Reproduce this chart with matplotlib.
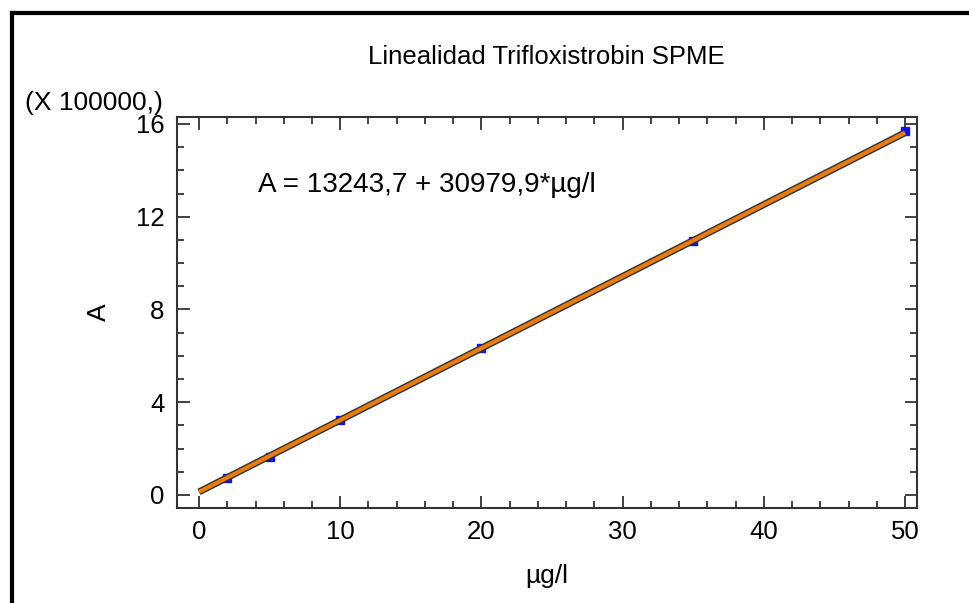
import matplotlib
matplotlib.use("Agg")
import matplotlib.pyplot as plt
import matplotlib.patheffects as pe
from matplotlib.ticker import MultipleLocator
import numpy as np

plt.rcParams['font.family'] = ['Liberation Sans', 'DejaVu Sans']

# calibration data (A in units of 100000)
conc = [2, 5, 10, 20, 35, 50]
area = [0.75, 1.62, 3.23, 6.33, 10.96, 15.70]
intercept = 13243.7
slope = 30979.9
scale = 100000.0

fig = plt.figure(figsize=(9.7, 6.03), dpi=100)
ax = fig.add_axes([0.1825, 0.1576, 0.7629, 0.6484])

xs = np.array([0, 50])
ys = (intercept + slope * xs) / scale
ax.plot(conc, area, 's', color='#1010ee', ms=6, zorder=2)
ax.plot(xs, ys, color='#e87c10', lw=3, solid_capstyle='butt', zorder=3,
        path_effects=[pe.Stroke(linewidth=5, foreground='#303030'), pe.Normal()])

ax.set_xlim(-1.56, 50.85)
ax.set_ylim(-0.56, 16.3)
ax.xaxis.set_major_locator(MultipleLocator(10))
ax.xaxis.set_minor_locator(MultipleLocator(2))
ax.yaxis.set_major_locator(MultipleLocator(4))
ax.yaxis.set_minor_locator(MultipleLocator(1))
ax.tick_params(which='both', direction='in', top=True, right=True, color='#333333', width=1.3)
ax.tick_params(which='major', length=9, labelsize=18.5, pad=9)
ax.tick_params(which='minor', length=5)
for s in ax.spines.values():
    s.set_linewidth(1.5)
    s.set_color('#333333')

ax.set_xlabel('µg/l', fontsize=19, labelpad=14)
ax.set_ylabel('A', fontsize=19, labelpad=18)
ax.text(4.2, 13.37, 'A = 13243,7 + 30979,9*µg/l', fontsize=20, va='center', ha='left')

fig.text(0.563, 0.905, 'Linealidad Trifloxistrobin SPME', fontsize=18.5, ha='center', va='center')
fig.text(0.026, 0.83, '(X 100000,)', fontsize=19, ha='left', va='center')

# screenshot frame
fig.add_artist(plt.Line2D([0.012, 0.012], [0, 0.979], color='black', lw=3, transform=fig.transFigure))
fig.add_artist(plt.Line2D([0.012, 1], [0.979, 0.979], color='black', lw=3, transform=fig.transFigure))

fig.savefig('out.png', dpi=100)
